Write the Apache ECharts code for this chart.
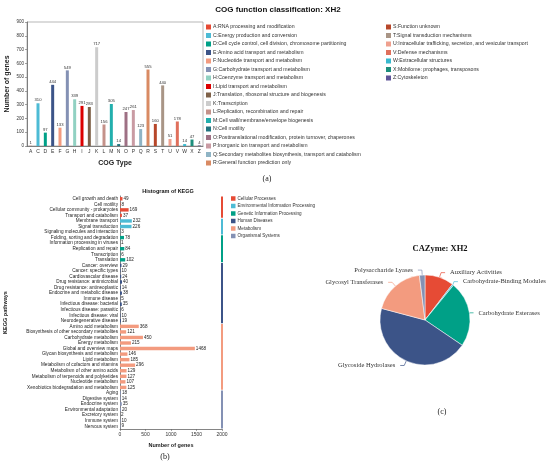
<!DOCTYPE html>
<html>
<head>
<meta charset="utf-8">
<script src="https://cdn.jsdelivr.net/npm/echarts@6/dist/echarts.min.js"></script>
<style>
  html, body { margin: 0; padding: 0; background: #fff; }
  #main { width: 550px; height: 466px; }
</style>
</head>
<body>
<div id="main"></div>
<script>
// COG bar chart data
var cogCats = ['A','C','D','E','F','G','H','I','J','K','L','M','N','O','P','Q','R','S','T','U','V','W','X','Z'];
var cogValues = [1,310,97,444,133,549,339,291,283,717,156,305,14,247,261,123,555,160,440,51,178,14,47,4];
var cogNames = [
  'A:RNA processing and modification',
  'C:Energy production and conversion',
  'D:Cell cycle control, cell division, chromosome partitioning',
  'E:Amino acid transport and metabolism',
  'F:Nucleotide transport and metabolism',
  'G:Carbohydrate transport and metabolism',
  'H:Coenzyme transport and metabolism',
  'I:Lipid transport and metabolism',
  'J:Translation, ribosomal structure and biogenesis',
  'K:Transcription',
  'L:Replication, recombination and repair',
  'M:Cell wall/membrane/envelope biogenesis',
  'N:Cell motility',
  'O:Posttranslational modification, protein turnover, chaperones',
  'P:Inorganic ion transport and metabolism',
  'Q:Secondary metabolites biosynthesis, transport and catabolism',
  'R:General function prediction only',
  'S:Function unknown',
  'T:Signal transduction mechanisms',
  'U:Intracellular trafficking, secretion, and vesicular transport',
  'V:Defense mechanisms',
  'W:Extracellular structures',
  'X:Mobilome: prophages, transposons',
  'Z:Cytoskeleton'
];
var cogColors = ['#E64B35','#4DBBD5','#00A087','#3C5488','#F39B7F','#8491B4','#91D1C2','#DC0000','#7E6148','#CCCCCC',
  '#C4928A','#22AFAD','#21737F','#9E7084','#C99BA3','#8FB4C5','#D98A63','#B7472A','#A99586','#EFA08E',
  '#E0705C','#38B9CF','#1D8F7D','#5E5498'];

// KEGG histogram data
var keggGroups = ['Cellular Processes','Environmental Information Processing','Genetic Information Processing',
  'Human Diseases','Metabolism','Organismal Systems'];
var keggGroupColors = ['#E64B35','#4DBBD5','#00A087','#3C5488','#F39B7F','#8491B4'];
var keggGroupSizes = [4,3,5,11,12,7];
var keggPathways = [
  'Cell growth and death','Cell motility','Cellular community - prokaryotes','Transport and catabolism',
  'Membrane transport','Signal transduction','Signaling molecules and interaction',
  'Folding, sorting and degradation','Information processing in viruses','Replication and repair','Transcription','Translation',
  'Cancer: overview','Cancer: specific types','Cardiovascular disease','Drug resistance: antimicrobial','Drug resistance: antineoplastic',
  'Endocrine and metabolic disease','Immune disease','Infectious disease: bacterial','Infectious disease: parasitic','Infectious disease: viral','Neurodegenerative disease',
  'Amino acid metabolism','Biosynthesis of other secondary metabolites','Carbohydrate metabolism','Energy metabolism','Global and overview maps',
  'Glycan biosynthesis and metabolism','Lipid metabolism','Metabolism of cofactors and vitamins','Metabolism of other amino acids',
  'Metabolism of terpenoids and polyketides','Nucleotide metabolism','Xenobiotics biodegradation and metabolism',
  'Aging','Digestive system','Endocrine system','Environmental adaptation','Excretory system','Immune system','Nervous system'
];
var keggValues = [49,8,169,37, 232,226,3, 78,1,84,6,102,
  29,10,24,40,14,38,5,35,6,10,19,
  368,121,450,215,1468,146,185,296,129,127,107,125,
  18,14,35,20,2,10,9];
var keggTicks = [0,500,1000,1500,2000];

// CAZyme pie data
var cazyNames = ['Auxiliary Activities','Carbohydrate-Binding Modules','Carbohydrate Esterases','Glycoside Hydrolases','Glycosyl Transferases','Polysaccharide Lyases'];
var cazyValues = [42,2,95,180,76,8];
var cazyColors = ['#E64B35','#4DBBD5','#00A087','#3C5488','#F39B7F','#8491B4'];

var myChart = echarts.init(document.getElementById('main'));

// one stacked series per COG class so every class gets its own legend entry
var series = [];
for (var i = 0; i < cogCats.length; i++) {
  var d = cogCats.map(function (c, j) { return j === i ? cogValues[i] : '-'; });
  series.push({
    name: cogNames[i],
    type: 'bar',
    stack: 'cog',
    xAxisIndex: 0, yAxisIndex: 0,
    barWidth: 3,
    itemStyle: { color: cogColors[i] },
    label: { show: true, position: 'top', distance: 1, fontSize: 4.2, color: '#333' },
    data: d
  });
}

// KEGG bars, one series per group
var groupStart = [];
var idx = 0;
for (var g = 0; g < keggGroups.length; g++) {
  groupStart.push(idx);
  var start = idx, end = idx + keggGroupSizes[g];
  var d2 = keggValues.map(function (v, j) { return (j >= start && j < end) ? v : '-'; });
  series.push({
    name: keggGroups[g],
    type: 'bar',
    stack: 'kegg',
    xAxisIndex: 1, yAxisIndex: 1,
    barWidth: 3.4,
    itemStyle: { color: keggGroupColors[g] },
    label: { show: true, position: 'right', distance: 1, fontSize: 4.6, color: '#222' },
    data: d2
  });
  idx = end;
}

// group side bars
var groupBars = keggGroups.map(function (name, g) {
  return [keggTicks[keggTicks.length - 1], groupStart[g], groupStart[g] + keggGroupSizes[g] - 1, g];
});
series.push({
  type: 'custom',
  xAxisIndex: 1, yAxisIndex: 1,
  clip: false,
  silent: true,
  encode: { x: 0, y: 1 },
  renderItem: function (params, api) {
    var a = api.coord([api.value(0), api.value(1)]);
    var b = api.coord([api.value(0), api.value(2)]);
    var band = api.size([0, 1])[1];
    return {
      type: 'rect',
      shape: { x: a[0] - 1, y: a[1] - band * 0.42, width: 2, height: b[1] - a[1] + band * 0.84 },
      style: { fill: keggGroupColors[api.value(3)] }
    };
  },
  data: groupBars
});

series.push({
  type: 'pie',
  center: [425, 320],
  radius: 45,
  startAngle: 90,
  bleedMargin: 0,
  itemStyle: { borderColor: '#fff', borderWidth: 0.5 },
  label: { fontFamily: 'Liberation Serif', fontSize: 6.5, color: '#333', overflow: 'none' },
  labelLine: { length: 5, length2: 4, lineStyle: { width: 0.7 } },
  data: cazyNames.map(function (n, i) {
    return { name: n, value: cazyValues[i], itemStyle: { color: cazyColors[i] } };
  })
});

var axisLineStyle = { lineStyle: { color: '#666', width: 0.8 } };

var option = {
  animation: false,
  textStyle: { fontFamily: 'Liberation Sans' },
  title: [
    { text: 'COG function classification: XH2', left: 273, top: 1, textAlign: 'center',
      textStyle: { fontSize: 8, fontWeight: 'bold', color: '#111' } },
    { text: '(a)', left: 262, top: 170, textAlign: 'center',
      textStyle: { fontSize: 8, fontWeight: 'normal', color: '#222', fontFamily: 'Liberation Serif' } },
    { text: 'Histogram of KEGG', left: 163, top: 183, textAlign: 'center',
      textStyle: { fontSize: 5.5, fontWeight: 'bold', color: '#111' } },
    { text: '(b)', left: 160, top: 448, textAlign: 'center',
      textStyle: { fontSize: 8, fontWeight: 'normal', color: '#222', fontFamily: 'Liberation Serif' } },
    { text: 'CAZyme: XH2', left: 435, top: 239, textAlign: 'center',
      textStyle: { fontSize: 8.5, fontWeight: 'bold', color: '#111', fontFamily: 'Liberation Serif' } },
    { text: '(c)', left: 437, top: 403, textAlign: 'center',
      textStyle: { fontSize: 8, fontWeight: 'normal', color: '#222', fontFamily: 'Liberation Serif' } }
  ],
  legend: [
    { data: cogNames.slice(0, 17), orient: 'vertical', left: 206, top: 24, icon: 'rect',
      itemWidth: 5, itemHeight: 5, itemGap: 2.5, padding: 0, selectedMode: false,
      textStyle: { fontSize: 5.2, lineHeight: 6, color: '#333', padding: [0, 0, 0, -3] } },
    { data: cogNames.slice(17), orient: 'vertical', left: 386, top: 24, icon: 'rect',
      itemWidth: 5, itemHeight: 5, itemGap: 2.5, padding: 0, selectedMode: false,
      textStyle: { fontSize: 5.2, lineHeight: 6, color: '#333', padding: [0, 0, 0, -3] } },
    { data: keggGroups, orient: 'vertical', left: 231, top: 196, icon: 'rect',
      itemWidth: 4.5, itemHeight: 4.5, itemGap: 2.5, padding: 0, selectedMode: false,
      textStyle: { fontSize: 4.6, lineHeight: 5, color: '#333', padding: [0, 0, 0, -3] } }
  ],
  grid: [
    { left: 27, top: 22, width: 176, height: 124, show: true, borderColor: '#888', borderWidth: 0.6 },
    { left: 120, top: 196, width: 102, height: 233 }
  ],
  xAxis: [
    { type: 'category', gridIndex: 0, data: cogCats,
      name: 'COG Type', nameLocation: 'middle', nameGap: 14,
      nameTextStyle: { fontSize: 7, fontWeight: 'bold', color: '#222' },
      axisLine: axisLineStyle,
      axisTick: { alignWithLabel: true, length: 2, lineStyle: { color: '#666', width: 0.6 } },
      axisLabel: { fontSize: 5, color: '#333', margin: 3 } },
    { type: 'value', gridIndex: 1, min: 0, max: 2000, interval: 500,
      name: 'Number of genes', nameLocation: 'middle', nameGap: 13,
      nameTextStyle: { fontSize: 5.5, fontWeight: 'bold', color: '#222' },
      axisLine: { show: true, lineStyle: { color: '#666', width: 0.8 } },
      axisTick: { show: true, length: 2, lineStyle: { color: '#666', width: 0.6 } },
      splitLine: { show: false },
      axisLabel: { fontSize: 5, color: '#333', margin: 3, formatter: function (v) { return String(v); } } }
  ],
  yAxis: [
    { type: 'value', gridIndex: 0, min: 0, max: 900, interval: 100,
      name: 'Number of genes', nameLocation: 'middle', nameGap: 16,
      nameTextStyle: { fontSize: 7, fontWeight: 'bold', color: '#222' },
      axisLine: { show: true, lineStyle: { color: '#666', width: 0.8 } },
      axisTick: { show: true, length: 2, lineStyle: { color: '#666', width: 0.6 } },
      splitLine: { show: false },
      axisLabel: { fontSize: 4.5, color: '#333', margin: 3 } },
    { type: 'category', gridIndex: 1, data: keggPathways, inverse: true,
      name: 'KEGG pathways', nameLocation: 'middle', nameGap: 112, nameRotate: 90,
      nameTextStyle: { fontSize: 5.5, fontWeight: 'bold', color: '#222' },
      axisLine: axisLineStyle,
      axisTick: { alignWithLabel: true, length: 1.5, lineStyle: { color: '#666', width: 0.5 } },
      axisLabel: { fontSize: 4.7, color: '#222', margin: 2, interval: 0 } }
  ],
  series: series
};

myChart.setOption(option);
</script>
</body>
</html>
